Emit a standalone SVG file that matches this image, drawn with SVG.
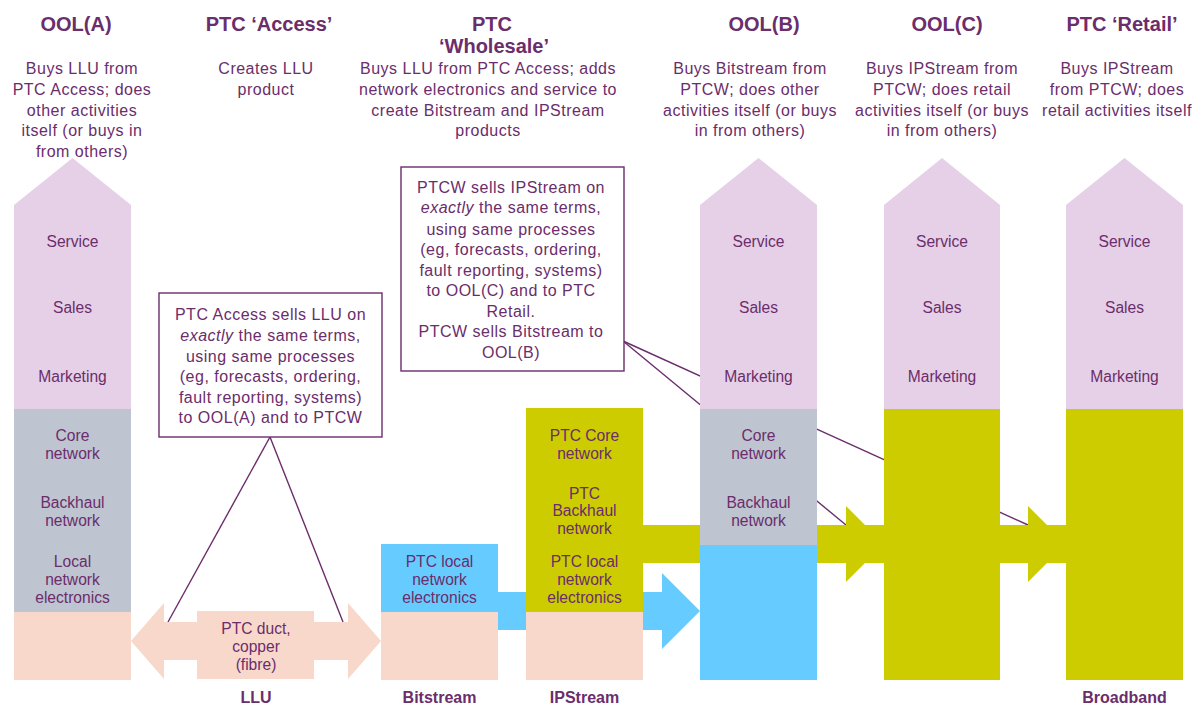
<svg xmlns="http://www.w3.org/2000/svg" width="1204" height="706" viewBox="0 0 1204 706">
<style>
text{font-family:"Liberation Sans",Arial,sans-serif;fill:#6B2D6B;text-anchor:middle}
.h{font-size:20px;font-weight:bold}
.t{font-size:16px;letter-spacing:0.5px}
.l{font-size:15.6px}
.b{font-size:16px;font-weight:bold}
.lil{fill:#E6D0E7}
.gry{fill:#BEC4D0}
.pch{fill:#F8D8CB}
.blu{fill:#66CCFF}
.olv{fill:#CCCC00}
.cl{stroke:#6B2D6B;stroke-width:1.4;fill:none}
.box{fill:#FFFFFF;stroke:#6B2D6B;stroke-width:1.4}
</style>
<g id="connectors">
<line class="cl" x1="270" y1="437" x2="168" y2="622"/>
<line class="cl" x1="270" y1="437" x2="343" y2="622"/>
<line class="cl" x1="623" y1="341" x2="1028" y2="525"/>
<line class="cl" x1="623" y1="341" x2="846" y2="525"/>
</g>
<g id="headers">
<text class="h" x="76" y="31">OOL(A)</text>
<text class="h" x="269" y="31">PTC ‘Access’</text>
<text class="h" x="492" y="31">PTC</text>
<text class="h" x="494" y="53">‘Wholesale’</text>
<text class="h" x="764" y="31">OOL(B)</text>
<text class="h" x="947" y="31">OOL(C)</text>
<text class="h" x="1122" y="31">PTC ‘Retail’</text>
<text class="t" x="82"><tspan x="82" y="74">Buys LLU from</tspan><tspan x="82" y="95">PTC Access; does</tspan><tspan x="82" y="115.5">other activities</tspan><tspan x="82" y="136">itself (or buys in</tspan><tspan x="82" y="156.5">from others)</tspan></text>
<text class="t"><tspan x="266" y="74">Creates LLU</tspan><tspan x="266" y="95">product</tspan></text>
<text class="t"><tspan x="488" y="74">Buys LLU from PTC Access; adds</tspan><tspan x="488" y="95">network electronics and service to</tspan><tspan x="488" y="115.5">create Bitstream and IPStream</tspan><tspan x="488" y="136">products</tspan></text>
<text class="t"><tspan x="750" y="74">Buys Bitstream from</tspan><tspan x="750" y="95">PTCW; does other</tspan><tspan x="750" y="115.5">activities itself (or buys</tspan><tspan x="750" y="136">in from others)</tspan></text>
<text class="t"><tspan x="942" y="74">Buys IPStream from</tspan><tspan x="942" y="95">PTCW; does retail</tspan><tspan x="942" y="115.5">activities itself (or buys</tspan><tspan x="942" y="136">in from others)</tspan></text>
<text class="t"><tspan x="1117" y="74">Buys IPStream</tspan><tspan x="1117" y="95">from PTCW; does</tspan><tspan x="1117" y="115.5">retail activities itself</tspan></text>
</g>
<g id="flow-arrows">
<polygon class="pch" points="131,641 164,603 164,622 348,622 348,603 381,641 348,679 348,660 164,660 164,679"/>
<rect class="pch" x="197" y="611" width="117" height="68"/>
<text class="l"><tspan x="256" y="634">PTC duct,</tspan><tspan x="256" y="652">copper</tspan><tspan x="256" y="670">(fibre)</tspan></text>
<rect class="blu" x="497" y="592" width="30" height="38"/>
<polygon class="blu" points="642,592 662,592 662,573 700,611 662,649 662,630 642,630"/>
<rect class="olv" x="642" y="525" width="59" height="38"/>
<polygon class="olv" points="816,525 846,525 846,506 884,544 846,582 846,563 816,563"/>
<rect class="olv" x="846" y="525" width="39" height="38"/>
<polygon class="olv" points="999,525 1028,525 1028,506 1066,544 1028,582 1028,563 999,563"/>
<rect class="olv" x="1028" y="525" width="39" height="38"/>
</g>
<g id="col-oola">
<polygon class="lil" points="14,205 72.5,158 131,205 131,409 14,409"/>
<rect class="gry" x="14" y="409" width="117" height="203"/>
<rect class="pch" x="14" y="612" width="117" height="68"/>
<text class="l" x="72.5" y="246.5">Service</text>
<text class="l" x="72.5" y="313">Sales</text>
<text class="l" x="72.5" y="381.5">Marketing</text>
<text class="l"><tspan x="72.5" y="441">Core</tspan><tspan x="72.5" y="458.7">network</tspan></text>
<text class="l"><tspan x="72.5" y="508">Backhaul</tspan><tspan x="72.5" y="526">network</tspan></text>
<text class="l"><tspan x="72.5" y="567">Local</tspan><tspan x="72.5" y="585">network</tspan><tspan x="72.5" y="602.5">electronics</tspan></text>
</g>
<g id="col-bitstream">
<rect class="blu" x="381" y="544" width="117" height="68"/>
<rect class="pch" x="381" y="612" width="117" height="68"/>
<text class="l"><tspan x="439.5" y="567">PTC local</tspan><tspan x="439.5" y="585">network</tspan><tspan x="439.5" y="602.5">electronics</tspan></text>
</g>
<g id="col-ipstream">
<rect class="olv" x="526" y="408" width="117" height="204"/>
<rect class="pch" x="526" y="612" width="117" height="68"/>
<text class="l"><tspan x="584.5" y="441">PTC Core</tspan><tspan x="584.5" y="458.7">network</tspan></text>
<text class="l"><tspan x="584.5" y="498.5">PTC</tspan><tspan x="584.5" y="516">Backhaul</tspan><tspan x="584.5" y="534">network</tspan></text>
<text class="l"><tspan x="584.5" y="567">PTC local</tspan><tspan x="584.5" y="585">network</tspan><tspan x="584.5" y="602.5">electronics</tspan></text>
</g>
<g id="col-oolb">
<polygon class="lil" points="700,205 758.5,158 817,205 817,409 700,409"/>
<rect class="gry" x="700" y="409" width="117" height="136"/>
<rect class="blu" x="700" y="545" width="117" height="135"/>
<text class="l" x="758.5" y="246.5">Service</text>
<text class="l" x="758.5" y="313">Sales</text>
<text class="l" x="758.5" y="381.5">Marketing</text>
<text class="l"><tspan x="758.5" y="441">Core</tspan><tspan x="758.5" y="458.7">network</tspan></text>
<text class="l"><tspan x="758.5" y="508">Backhaul</tspan><tspan x="758.5" y="526">network</tspan></text>
</g>
<g id="col-oolc">
<polygon class="lil" points="884,205 942,158 1000,205 1000,409 884,409"/>
<rect class="olv" x="884" y="409" width="116" height="271"/>
<text class="l" x="942" y="246.5">Service</text>
<text class="l" x="942" y="313">Sales</text>
<text class="l" x="942" y="381.5">Marketing</text>
</g>
<g id="col-retail">
<polygon class="lil" points="1066,205 1124.5,158 1183,205 1183,409 1066,409"/>
<rect class="olv" x="1066" y="409" width="117" height="271"/>
<text class="l" x="1124.5" y="246.5">Service</text>
<text class="l" x="1124.5" y="313">Sales</text>
<text class="l" x="1124.5" y="381.5">Marketing</text>
</g>
<g id="callout-access">
<rect class="box" x="159" y="293" width="223" height="144"/>
<text class="t"><tspan x="270.5" y="320">PTC Access sells LLU on</tspan><tspan x="270.5" y="340.5"><tspan font-style="italic">exactly</tspan> the same terms,</tspan><tspan x="270.5" y="361.5">using same processes</tspan><tspan x="270.5" y="382">(eg, forecasts, ordering,</tspan><tspan x="270.5" y="403">fault reporting, systems)</tspan><tspan x="270.5" y="423">to OOL(A) and to PTCW</tspan></text>
</g>
<g id="callout-wholesale">
<rect class="box" x="401" y="167" width="223" height="204"/>
<text class="t"><tspan x="511" y="193">PTCW sells IPStream on</tspan><tspan x="511" y="213"><tspan font-style="italic">exactly</tspan> the same terms,</tspan><tspan x="511" y="234.5">using same processes</tspan><tspan x="511" y="255">(eg, forecasts, ordering,</tspan><tspan x="511" y="275.5">fault reporting, systems)</tspan><tspan x="511" y="296">to OOL(C) and to PTC</tspan><tspan x="511" y="316.5">Retail.</tspan><tspan x="511" y="337">PTCW sells Bitstream to</tspan><tspan x="511" y="358">OOL(B)</tspan></text>
</g>
<g id="product-labels">
<text class="b" x="256" y="703">LLU</text>
<text class="b" x="439.5" y="703">Bitstream</text>
<text class="b" x="584.5" y="703">IPStream</text>
<text class="b" x="1124.5" y="703">Broadband</text>
</g>
</svg>
